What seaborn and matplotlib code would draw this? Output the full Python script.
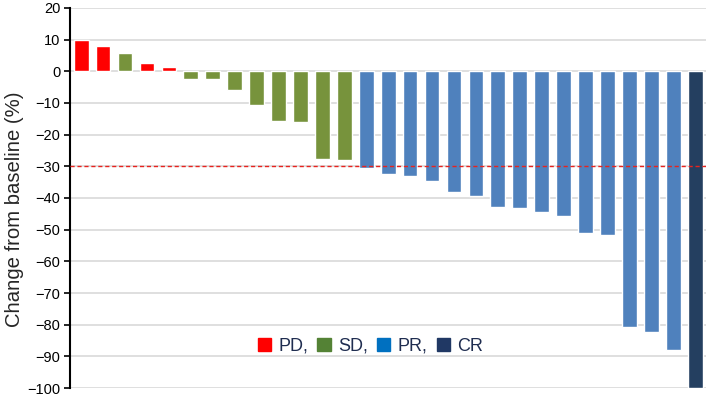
import numpy as np
import pandas as pd
import matplotlib.pyplot as plt
import seaborn as sns
from matplotlib.patches import Patch
from matplotlib.ticker import FuncFormatter

# ================= DADOS =================
PACIENTES = [f"P{i+1}" for i in range(29)]
VARIACAO = [10.0, 8.0, 5.7, 2.7, 1.2, -2.3, -2.5, -5.9, -10.5, -15.7, -16.0, -27.6, -28.0,
            -30.5, -32.5, -32.9, -34.6, -38.0, -39.4, -42.8, -43.1, -44.4, -45.8, -51.0, -51.6,
            -80.6, -82.4, -88.0, -100.0]
RESPOSTA = ["PD", "PD", "SD", "PD", "PD", "SD", "SD", "SD", "SD", "SD", "SD", "SD", "SD",
            "PR", "PR", "PR", "PR", "PR", "PR", "PR", "PR", "PR", "PR", "PR", "PR",
            "PR", "PR", "PR", "CR"]

CORES_BARRA = {"PD": "#FF0000", "SD": "#77933C", "PR": "#4F81BD", "CR": "#243F60"}
CORES_LEGENDA = {"PD": "#FF0000", "SD": "#548235", "PR": "#0070C0", "CR": "#203864"}
ROTULOS_LEGENDA = ["PD,", "SD,", "PR,", "CR"]

df = pd.DataFrame({"paciente": PACIENTES, "variacao": VARIACAO, "resposta": RESPOSTA})

# ================= FIGURA =================
sns.set_style("white")
plt.rcParams['font.family'] = ['Liberation Sans', 'DejaVu Sans']

fig, ax = plt.subplots(figsize=(7.09, 3.96), dpi=100)
fig.subplots_adjust(left=0.099, right=0.996, top=0.98, bottom=0.02)

sns.barplot(data=df, x="paciente", y="variacao", hue="resposta", palette=CORES_BARRA,
            dodge=False, width=0.67, legend=False, ax=ax, saturation=1, zorder=3)

ax.set_ylim(-100, 20)
ax.set_xlim(-0.5, len(PACIENTES) - 0.5)
ax.set_yticks(np.arange(-100, 21, 10))
ax.yaxis.set_major_formatter(FuncFormatter(lambda v, p: f"{int(v)}".replace("-", "\u2212")))
ax.yaxis.grid(True, color="#D9D9D9", linewidth=1.2, zorder=0)
ax.set_axisbelow(True)

# linha de corte -30%
ax.axhline(-30, color="#E8231E", linestyle=(0, (3, 2)), linewidth=1, zorder=4)

for lado in ["top", "right", "bottom"]:
    ax.spines[lado].set_visible(False)
ax.spines["left"].set_color("black")
ax.spines["left"].set_linewidth(1.5)

ax.tick_params(axis="y", which="both", left=True, length=4, width=1.2,
               labelsize=10.5, colors="black", pad=3)
ax.set_xticks([])
ax.set_xlabel("")
ax.set_ylabel("Change from baseline (%)", fontsize=14.6)
ax.yaxis.set_label_coords(-0.073, 0.47)

handles = [Patch(color=CORES_LEGENDA[k]) for k in ["PD", "SD", "PR", "CR"]]
ax.legend(handles, ROTULOS_LEGENDA, loc="center", bbox_to_anchor=(0.472, 0.11), ncol=4,
          frameon=False, fontsize=13, handlelength=0.75, handleheight=0.75,
          handletextpad=0.4, columnspacing=0.5, labelcolor="#1F2D50")

fig.savefig("out.png", dpi=100)
